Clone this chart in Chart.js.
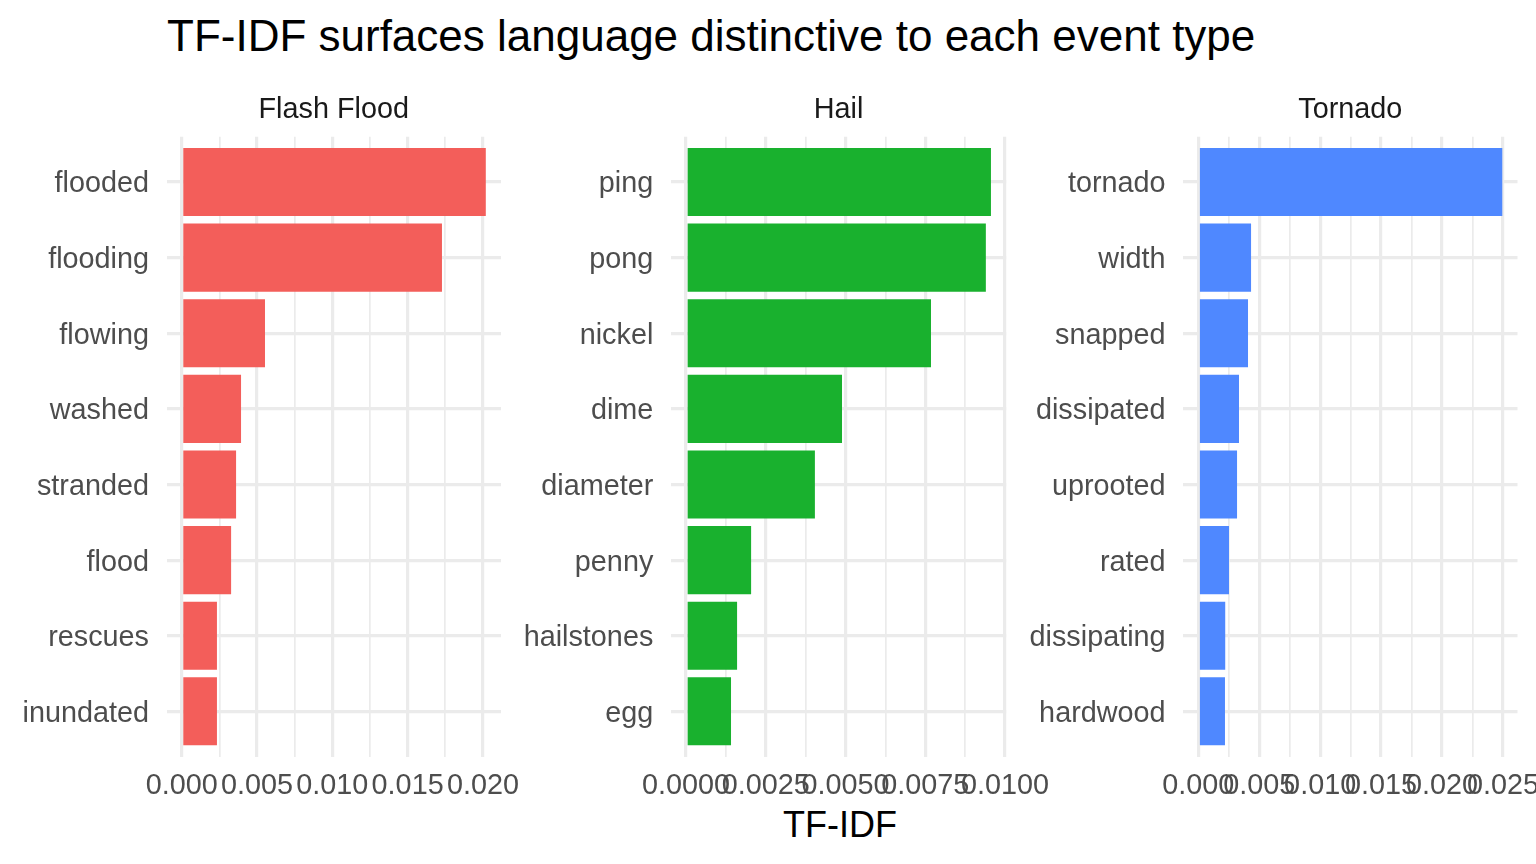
<!DOCTYPE html>
<html><head><meta charset="utf-8">
<script src="https://cdn.jsdelivr.net/npm/chart.js@4.4.1/dist/chart.umd.min.js"></script>
<style>
html,body{margin:0;padding:0;background:#fff;width:1536px;height:864px;overflow:hidden;}
canvas{position:absolute;left:0;top:0;}
.t{position:absolute;font-family:"Liberation Sans",Arial,Helvetica,sans-serif;white-space:nowrap;color:#000;}
</style></head><body>
<div class="t" id="title" style="left:167px;top:14.4px;font-size:44px;line-height:44px;">TF-IDF surfaces language distinctive to each event type</div>
<div class="t" id="xtitle" style="left:640px;width:400px;text-align:center;top:807.2px;font-size:36px;line-height:36px;">TF-IDF</div>
<canvas id="c0" width="1536" height="864"></canvas>
<canvas id="c1" width="1536" height="864"></canvas>
<canvas id="c2" width="1536" height="864"></canvas>
<script>
// ---- data ----
const panelTitles = ['Flash Flood', 'Hail', 'Tornado'];

const floodTerms  = ['flooded', 'flooding', 'flowing', 'washed', 'stranded', 'flood', 'rescues', 'inundated'];
const floodValues = [0.02019, 0.01728, 0.00553, 0.00394, 0.00361, 0.00328, 0.00234, 0.00234];

const hailTerms  = ['ping', 'pong', 'nickel', 'dime', 'diameter', 'penny', 'hailstones', 'egg'];
const hailValues = [0.00956, 0.00940, 0.00768, 0.00489, 0.00404, 0.00204, 0.00160, 0.00141];

const tornadoTerms  = ['tornado', 'width', 'snapped', 'dissipated', 'uprooted', 'rated', 'dissipating', 'hardwood'];
const tornadoValues = [0.02495, 0.00433, 0.00408, 0.00334, 0.00318, 0.00252, 0.00221, 0.00219];

const floodTicks = [0, 0.005, 0.010, 0.015, 0.020];
const floodTickLabels = ['0.000', '0.005', '0.010', '0.015', '0.020'];
const hailTicks = [0, 0.0025, 0.0050, 0.0075, 0.0100];
const hailTickLabels = ['0.0000', '0.0025', '0.0050', '0.0075', '0.0100'];
const tornadoTicks = [0, 0.005, 0.010, 0.015, 0.020, 0.025];
const tornadoTickLabels = ['0.000', '0.005', '0.010', '0.015', '0.020', '0.025'];

const barColors = ['#F35E5A', '#19B12E', '#4F88FF'];

// ---- layout (style) ----
const W = 1536, H = 864;
const PLOT_TOP = 136.7, PLOT_BOTTOM = 756.7;
const Y_W = 160, X_H = 60;
const panelBoxes = [
  {left: 166.5, right: 501.0},
  {left: 670.8, right: 1006.2},
  {left: 1183.1, right: 1517.5}
];
const GRID = '#ebebeb';
const TXT = '#4d4d4d';
const FONT = '"Liberation Sans", Arial, Helvetica, sans-serif';
Chart.defaults.font.family = FONT;

function makeChart(id, title, terms, values, ticks, tickLabels, color, box) {
  const n = terms.length;
  const pos = terms.map((t, i) => n - i);
  const data = values.map((v, i) => ({x: v, y: pos[i]}));
  const vmax = Math.max(...values);
  const minor = ticks.slice(1).map((t, i) => (t + ticks[i]) / 2);
  const allTicks = ticks.concat(minor).sort((a, b) => a - b);
  const majorIdx = v => ticks.findIndex(t => Math.abs(t - v) < 1e-12);
  const yTicks = pos.slice().sort((a, b) => a - b);

  return new Chart(document.getElementById(id), {
    type: 'bar',
    data: {
      datasets: [{
        data: data,
        backgroundColor: color,
        borderWidth: 0,
        barPercentage: 0.9,
        categoryPercentage: 1.0
      }]
    },
    options: {
      indexAxis: 'y',
      responsive: false,
      animation: false,
      events: [],
      layout: {
        padding: {
          left: box.left - Y_W,
          right: W - box.right,
          top: 92.5,
          bottom: H - PLOT_BOTTOM - X_H
        }
      },
      plugins: {
        legend: {display: false},
        tooltip: {enabled: false},
        title: {
          display: true,
          text: title,
          fullSize: false,
          align: 'center',
          color: '#1a1a1a',
          font: {size: 28.8, weight: 'normal', family: FONT},
          padding: {top: 0, bottom: 9.6}
        }
      },
      scales: {
        x: {
          type: 'linear',
          position: 'bottom',
          min: -0.05 * vmax,
          max: 1.05 * vmax,
          bounds: 'data',
          offset: false,
          afterBuildTicks: s => { s.ticks = allTicks.map(v => ({value: v})); },
          afterFit: s => { s.height = X_H; s.paddingLeft = 0; s.paddingRight = 0; },
          ticks: {
            autoSkip: false, maxRotation: 0, minRotation: 0, padding: 12,
            color: TXT, font: {size: 28.8, family: FONT},
            callback: v => { const k = majorIdx(v); return k >= 0 ? tickLabels[k] : ''; }
          },
          grid: {
            offset: false,
            color: GRID,
            lineWidth: c => (c.tick && majorIdx(c.tick.value) >= 0) ? 3.2 : 1.7,
            drawTicks: false
          },
          border: {display: false}
        },
        y: {
          type: 'linear',
          position: 'left',
          min: 0.4,
          max: n + 0.6,
          bounds: 'data',
          offset: false,
          afterBuildTicks: s => { s.ticks = yTicks.map(v => ({value: v})); },
          afterFit: s => { s.width = Y_W; s.paddingTop = 0; s.paddingBottom = 0; },
          ticks: {
            autoSkip: false, padding: 17.5, labelOffset: 2.5,
            color: TXT, font: {size: 28.8, family: FONT},
            callback: v => terms[n - Math.round(v)]
          },
          grid: {offset: false, color: GRID, lineWidth: 3.2, drawTicks: false},
          border: {display: false}
        }
      }
    }
  });
}

makeChart('c0', panelTitles[0], floodTerms, floodValues, floodTicks, floodTickLabels, barColors[0], panelBoxes[0]);
makeChart('c1', panelTitles[1], hailTerms, hailValues, hailTicks, hailTickLabels, barColors[1], panelBoxes[1]);
makeChart('c2', panelTitles[2], tornadoTerms, tornadoValues, tornadoTicks, tornadoTickLabels, barColors[2], panelBoxes[2]);
</script>
</body></html>
